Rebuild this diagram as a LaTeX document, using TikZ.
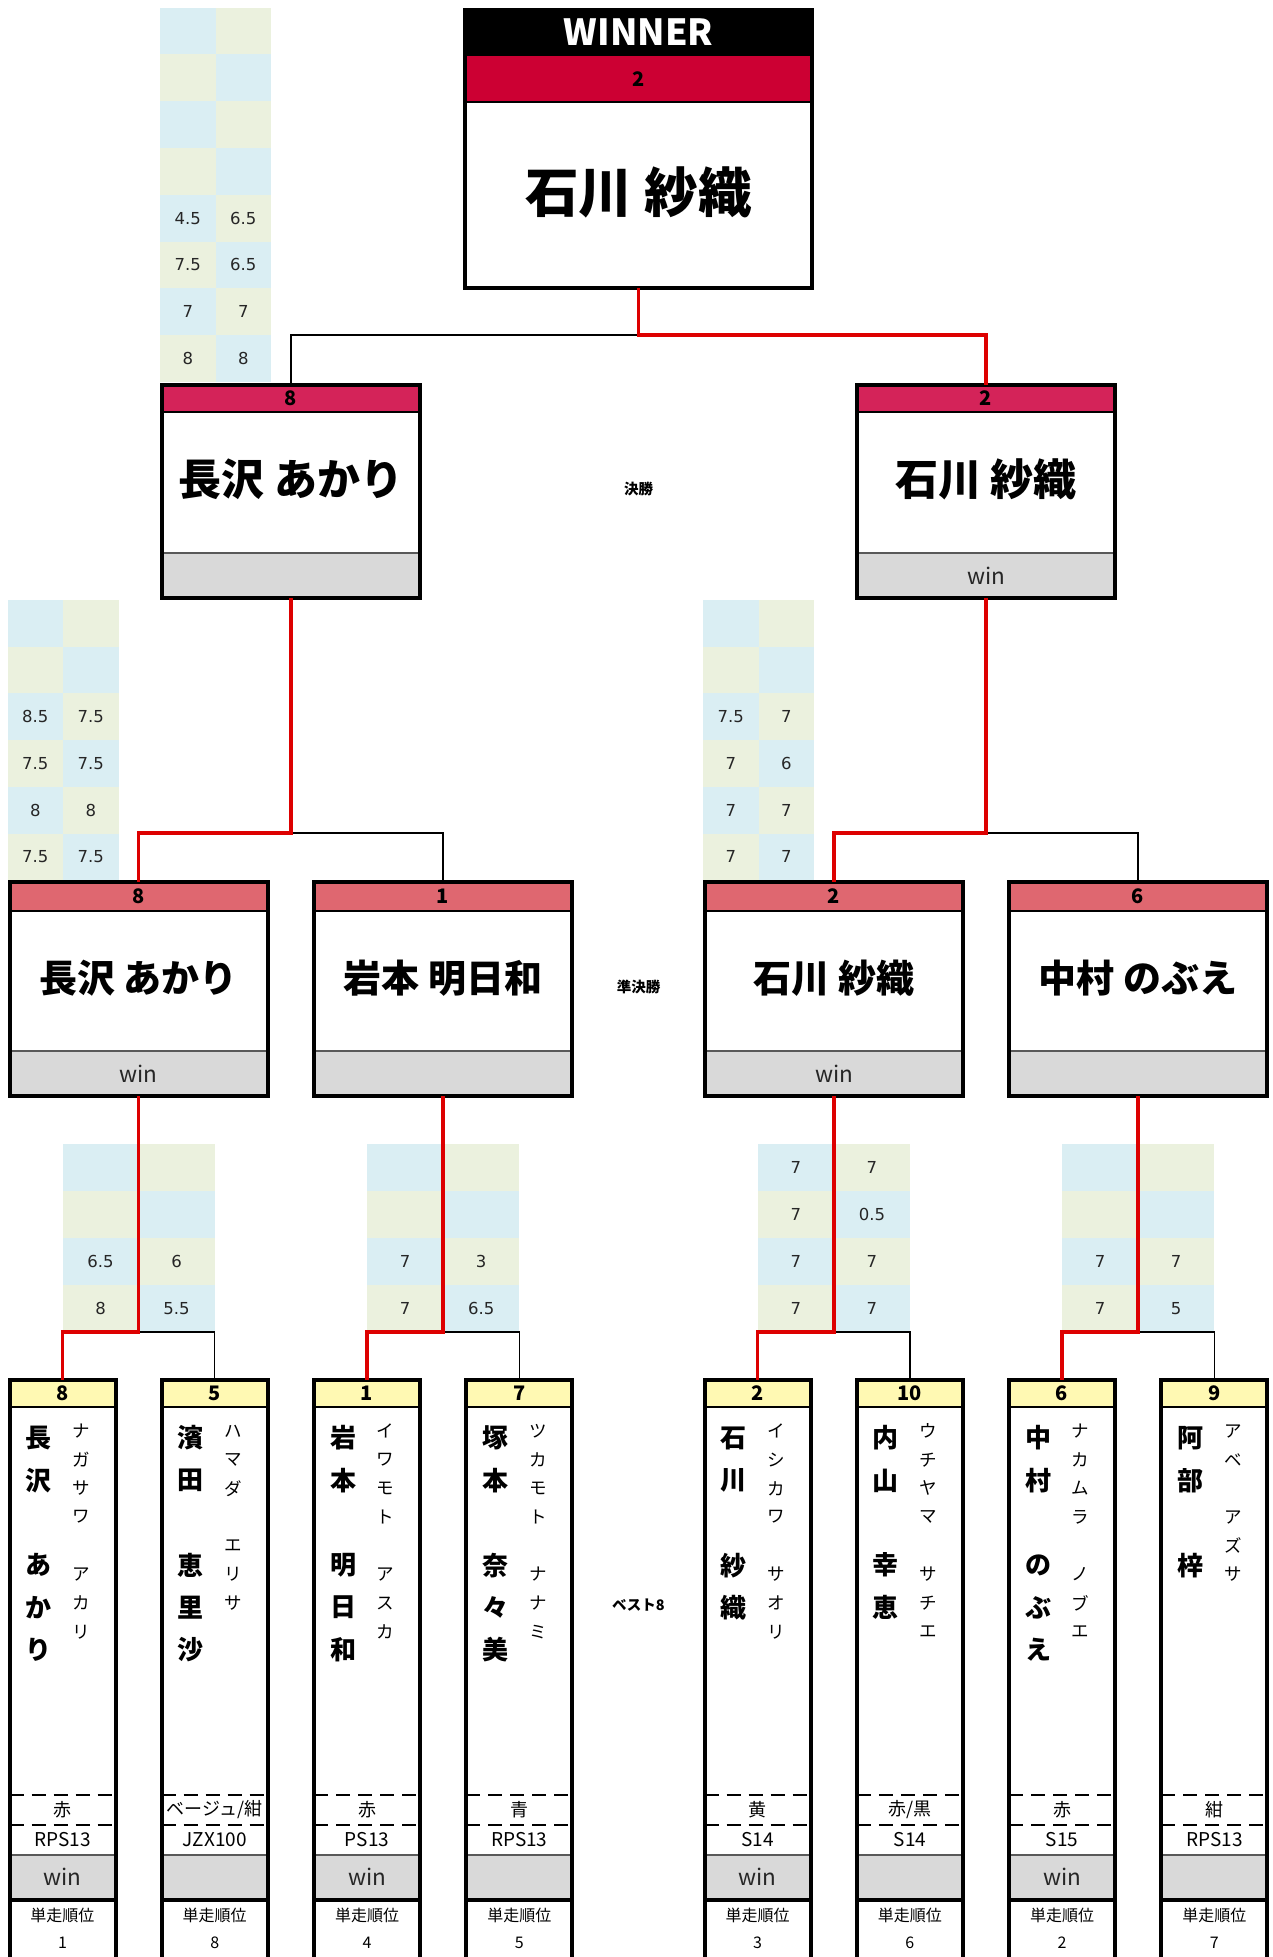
\documentclass[tikz,border=0pt]{standalone}
\usepackage{fontspec}
\setmainfont{Noto Sans CJK JP}
\newfontfamily\numfont{DejaVu Sans}
\definecolor{cellB}{HTML}{DAEEF3}
\definecolor{cellO}{HTML}{EBF1DE}
\definecolor{winred}{HTML}{CC0033}
\definecolor{finhead}{HTML}{D42359}
\definecolor{sfhead}{HTML}{DF6770}
\definecolor{bhead}{HTML}{FFF9B3}
\definecolor{greybar}{HTML}{D9D9D9}
\definecolor{redline}{HTML}{DD0000}
\tikzset{
  redcon/.style={draw=redline, line width=3.6pt},
  blkcon/.style={draw=black, line width=1.5pt},
  framebox/.style={draw=black, line width=4pt, rectangle, inner sep=0pt, outer sep=0pt, anchor=north west},
  sepline/.style={draw=black, line width=1.6pt},
  greysep/.style={draw=black!65, line width=2pt},
  dashsep/.style={draw=black, line width=2pt, dash pattern=on 14pt off 8pt},
  numtxt/.style={font=\numfont\fontsize{16.5}{18}\selectfont, text=black!85, inner sep=0pt},
  headnum/.style={font=\fontsize{20}{22}\selectfont\bfseries, inner sep=0pt},
  winnertxt/.style={font=\fontsize{36}{38}\selectfont\bfseries, text=white, inner sep=0pt},
  wname/.style={font=\fontsize{53.5}{56}\selectfont\bfseries, inner sep=0pt},
  finname/.style={font=\fontsize{43}{46}\selectfont\bfseries, inner sep=0pt},
  sfname/.style={font=\fontsize{38}{40}\selectfont\bfseries, inner sep=0pt},
  wintxt/.style={font=\fontsize{22.5}{24}\selectfont, text=black!85, inner sep=0pt},
  colortxt/.style={font=\fontsize{18}{20}\selectfont, inner sep=0pt},
  modeltxt/.style={font=\fontsize{19}{21}\selectfont, inner sep=0pt},
  ranktxt/.style={font=\fontsize{16}{18}\selectfont, inner sep=0pt},
  roundtxt/.style={font=\fontsize{14.5}{16}\selectfont\bfseries, inner sep=0pt},
  vkanji/.style={font=\fontsize{26}{28}\selectfont\bfseries, inner sep=0pt},
  vkana/.style={font=\fontsize{17.5}{19}\selectfont, inner sep=0pt},
}
% score table: #1 name, #2 xL, #3 xM, #4 xR, #5 yTop, #6 row height, #7 list a/b
\newcommand\stable[7]{%
  \foreach \a/\b [count=\i] in {#7}{%
    \pgfmathsetmacro\yt{#5+(\i-1)*#6}%
    \pgfmathsetmacro\yb{#5+\i*#6}%
    \ifodd\i \def\cola{cellB}\def\colb{cellO}\else \def\cola{cellO}\def\colb{cellB}\fi
    \fill[\cola] (#2,\yt) rectangle (#3,\yb);
    \fill[\colb] (#3,\yt) rectangle (#4,\yb);
    \node[numtxt] (#1l\i) at ({(#2+#3)/2},{(\yt+\yb)/2}) {\a};
    \node[numtxt] (#1r\i) at ({(#3+#4)/2},{(\yt+\yb)/2}) {\b};
  }%
}
% final box: #1 name, #2 xL outer, #3 number, #4 player, #5 win
\newcommand\finbox[5]{%
  \fill[finhead] (#2+2,385) rectangle (#2+260,412);
  \fill[greybar] (#2+2,553) rectangle (#2+260,598);
  \draw[sepline] (#2+2,412) -- (#2+260,412);
  \draw[greysep] (#2+2,553) -- (#2+260,553);
  \node[framebox, minimum width=258pt, minimum height=213pt] (#1) at (#2+2,385) {};
  \node[headnum] (#1n) at (#2+131,398) {#3};
  \node[finname] (#1p) at (#2+131,479) {#4};
  \node[wintxt] (#1w) at (#2+131,576) {#5};
}
% semifinal box
\newcommand\sfbox[5]{%
  \fill[sfhead] (#2+2,882) rectangle (#2+260,911);
  \fill[greybar] (#2+2,1051) rectangle (#2+260,1096);
  \draw[sepline] (#2+2,911) -- (#2+260,911);
  \draw[greysep] (#2+2,1051) -- (#2+260,1051);
  \node[framebox, minimum width=258pt, minimum height=214pt] (#1) at (#2+2,882) {};
  \node[headnum] (#1n) at (#2+131,896) {#3};
  \node[sfname] (#1p) at (#2+131,978) {#4};
  \node[wintxt] (#1w) at (#2+131,1074) {#5};
}
% best8 box: #1 name, #2 xL outer, #3 number, #4 colour, #5 model, #6 win, #7 rank
\newcommand\bbox[7]{%
  \fill[bhead] (#2+2,1380) rectangle (#2+108,1407);
  \fill[greybar] (#2+2,1855) rectangle (#2+108,1900);
  \draw[sepline] (#2+2,1407) -- (#2+108,1407);
  \draw[dashsep] (#2+2,1795) -- (#2+108,1795);
  \draw[dashsep] (#2+2,1825) -- (#2+108,1825);
  \draw[greysep] (#2+2,1855) -- (#2+108,1855);
  \draw[black, line width=4pt] (#2+2,1900) -- (#2+108,1900);
  \node[framebox, minimum width=106pt, minimum height=620pt] (#1) at (#2+2,1380) {};
  \node[headnum] (#1n) at (#2+55,1393) {#3};
  \node[colortxt] (#1c) at (#2+55,1810) {#4};
  \node[modeltxt] (#1m) at (#2+55,1840) {#5};
  \node[wintxt] (#1w) at (#2+55,1877) {#6};
  \node[ranktxt] (#1t) at (#2+55,1915) {単走順位};
  \node[ranktxt] (#1rk) at (#2+55,1943) {#7};
}
% vertical names: #1 prefix, #2 xL outer, #3 kanji list, #4 kana list
\newcommand\vname[4]{%
  \foreach \c [count=\i] in {#3} \node[vkanji] (#1k\i) at (#2+31,{1438+(\i-1)*42.4}) {\c};
  \foreach \c [count=\i] in {#4} \node[vkana] (#1y\i) at (#2+73.6,{1431+(\i-1)*28.7}) {\c};
}
\begin{document}
\begin{tikzpicture}[x=1pt,y=-1pt]
\useasboundingbox (0,0) rectangle (1273,1957);
% tables
\stable{ta}{160}{215.5}{271}{7.5}{46.8}{{}/{},{}/{},{}/{},{}/{},4.5/6.5,7.5/6.5,7/7,8/8}
\stable{tb}{7.5}{63}{118.5}{600}{46.7}{{}/{},{}/{},8.5/7.5,7.5/7.5,8/8,7.5/7.5}
\stable{tc}{703}{758.5}{814}{600}{46.7}{{}/{},{}/{},7.5/7,7/6,7/7,7/7}
\stable{td}{62.5}{138.5}{214.7}{1144}{47}{{}/{},{}/{},6.5/6,8/5.5}
\stable{te}{367}{443}{519.3}{1144}{47}{{}/{},{}/{},7/3,7/6.5}
\stable{tf}{757.6}{834}{909.9}{1144}{47}{7/7,7/0.5,7/7,7/7}
\stable{tg}{1062}{1138}{1214.4}{1144}{47}{{}/{},{}/{},7/7,7/5}
% junction points
\coordinate (j0) at (638.5,335);
\coordinate (j1) at (291,833);
\coordinate (j2) at (986,833);
\coordinate (j3) at (138.5,1332);
\coordinate (j4) at (443,1332);
\coordinate (j5) at (834,1332);
\coordinate (j6) at (1138,1332);
% WINNER
\fill[black] (465,9.5) rectangle (812,56);
\fill[winred] (465,56) rectangle (812,102);
\draw[sepline] (465,102) -- (812,102);
\node[framebox, minimum width=347pt, minimum height=278.5pt] (W) at (465,9.5) {};
\node[winnertxt] (Wt) at (638.5,32) {WINNER};
\node[headnum] (Wn) at (638.5,79) {2};
\node[wname] (Wp) at (638.5,192) {石川 紗織};
\finbox{fL}{160}{8}{長沢 あかり}{}
\finbox{fR}{855}{2}{石川 紗織}{win}
\sfbox{s1}{7.5}{8}{長沢 あかり}{win}
\sfbox{s2}{312}{1}{岩本 明日和}{}
\sfbox{s3}{703}{2}{石川 紗織}{win}
\sfbox{s4}{1007}{6}{中村 のぶえ}{}
\bbox{b1}{7.5}{8}{赤}{RPS13}{win}{1}
\bbox{b2}{159.7}{5}{ベージュ/紺}{JZX100}{}{8}
\bbox{b3}{312}{1}{赤}{PS13}{win}{4}
\bbox{b4}{464.3}{7}{青}{RPS13}{}{5}
\bbox{b5}{702.6}{2}{黄}{S14}{win}{3}
\bbox{b6}{854.9}{10}{赤/黒}{S14}{}{6}
\bbox{b7}{1007}{6}{赤}{S15}{win}{2}
\bbox{b8}{1159.4}{9}{紺}{RPS13}{}{7}
\vname{b1}{7.5}{長,沢,,あ,か,り}{ナ,ガ,サ,ワ,,ア,カ,リ}
\vname{b2}{159.7}{濱,田,,恵,里,沙}{ハ,マ,ダ,,エ,リ,サ}
\vname{b3}{312}{岩,本,,明,日,和}{イ,ワ,モ,ト,,ア,ス,カ}
\vname{b4}{464.3}{塚,本,,奈,々,美}{ツ,カ,モ,ト,,ナ,ナ,ミ}
\vname{b5}{702.6}{石,川,,紗,織}{イ,シ,カ,ワ,,サ,オ,リ}
\vname{b6}{854.9}{内,山,,幸,恵}{ウ,チ,ヤ,マ,,サ,チ,エ}
\vname{b7}{1007}{中,村,,の,ぶ,え}{ナ,カ,ム,ラ,,ノ,ブ,エ}
\vname{b8}{1159.4}{阿,部,,梓}{ア,ベ,,ア,ズ,サ}
% connectors
\draw[blkcon] (j0) -| (fL.north);
\draw[redcon] (W.south) -- (j0) -| (fR.north);
\draw[blkcon] (j1) -| (s2.north);
\draw[redcon] (fL.south) -- (j1) -| (s1.north);
\draw[blkcon] (j2) -| (s4.north);
\draw[redcon] (fR.south) -- (j2) -| (s3.north);
\draw[blkcon] (j3) -| (b2.north);
\draw[redcon] (s1.south) -- (j3) -| (b1.north);
\draw[blkcon] (j4) -| (b4.north);
\draw[redcon] (s2.south) -- (j4) -| (b3.north);
\draw[blkcon] (j5) -| (b6.north);
\draw[redcon] (s3.south) -- (j5) -| (b5.north);
\draw[blkcon] (j6) -| (b8.north);
\draw[redcon] (s4.south) -- (j6) -| (b7.north);
% round labels
\node[roundtxt] (r1) at (638.5,489) {決勝};
\node[roundtxt] (r2) at (638.5,987) {準決勝};
\node[roundtxt] (r3) at (638.5,1605) {ベスト8};
\end{tikzpicture}
\end{document}
